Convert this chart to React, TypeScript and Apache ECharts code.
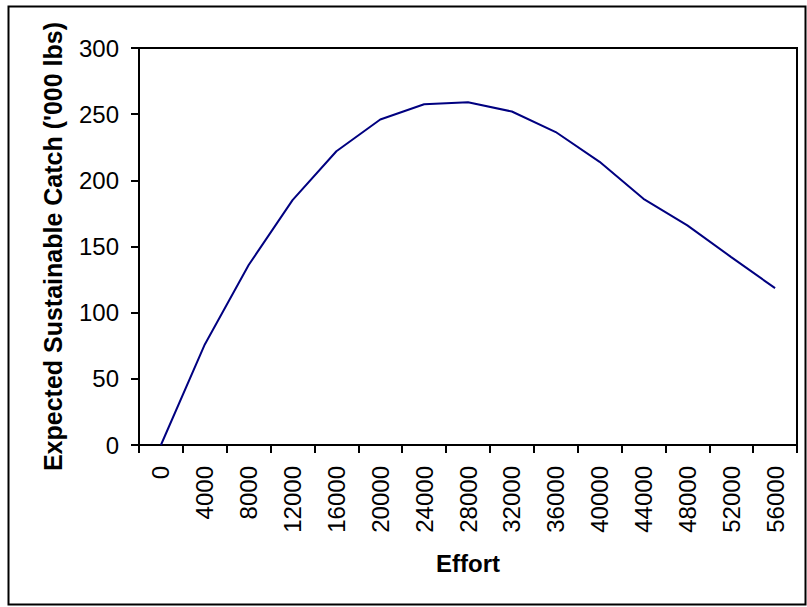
import React, { useEffect, useRef } from "react";
import * as echarts from "echarts";

const efforts = ["0", "4000", "8000", "12000", "16000", "20000", "24000", "28000", "32000", "36000", "40000", "44000", "48000", "52000", "56000"];
const catches = [0, 76, 136, 185, 222, 246, 257.5, 259, 252, 236.5, 214, 186, 166, 142, 118.5];
const yMin = 0;
const yMax = 300;
const yStep = 50;
const xTitle = "Effort";
const yTitle = "Expected Sustainable Catch ('000 lbs)";

const FONT = "'Liberation Sans', Arial, Helvetica, sans-serif";

export default function App() {
  const ref = useRef<HTMLDivElement>(null);
  useEffect(() => {
    const chart = echarts.init(ref.current!, null, { renderer: "svg" });
    chart.setOption({
      animation: false,
      backgroundColor: "#ffffff",
      textStyle: { fontFamily: FONT },
      graphic: [
        {
          type: "rect",
          shape: { x: 8.5, y: 6.5, width: 797, height: 598 },
          style: { fill: "none", stroke: "#000", lineWidth: 2 },
          silent: true,
        },
      ],
      grid: {
        left: 139,
        top: 48,
        right: 10,
        bottom: 162,
        show: true,
        borderColor: "#000",
        borderWidth: 2,
        backgroundColor: "transparent",
      },
      xAxis: {
        type: "category",
        data: efforts,
        boundaryGap: true,
        name: xTitle,
        nameLocation: "middle",
        nameGap: 106,
        nameTextStyle: { fontFamily: FONT, fontSize: 24, fontWeight: "bold", color: "#000" },
        axisLine: { show: true, lineStyle: { color: "#000", width: 2 } },
        axisTick: { show: true, inside: false, length: 8, alignWithLabel: false, lineStyle: { color: "#000", width: 2 } },
        axisLabel: { rotate: 90, margin: 21, fontFamily: FONT, fontSize: 24, color: "#000", interval: 0 },
        splitLine: { show: false },
      },
      yAxis: {
        type: "value",
        min: yMin,
        max: yMax,
        interval: yStep,
        name: yTitle,
        nameLocation: "middle",
        nameGap: 74,
        nameTextStyle: { fontFamily: FONT, fontSize: 25, fontWeight: "bold", color: "#000" },
        axisLine: { show: true, lineStyle: { color: "#000", width: 2 } },
        axisTick: { show: true, inside: false, length: 8, lineStyle: { color: "#000", width: 2 } },
        axisLabel: { margin: 20, fontFamily: FONT, fontSize: 24, color: "#000" },
        splitLine: { show: false },
      },
      series: [
        {
          type: "line",
          data: catches,
          symbol: "none",
          lineStyle: { color: "#000080", width: 2 },
        },
      ],
    });
    return () => chart.dispose();
  }, []);
  return (
    <div
      ref={ref}
      style={{ position: "fixed", left: 0, top: 0, width: 807, height: 607, background: "#fff" }}
    />
  );
}
